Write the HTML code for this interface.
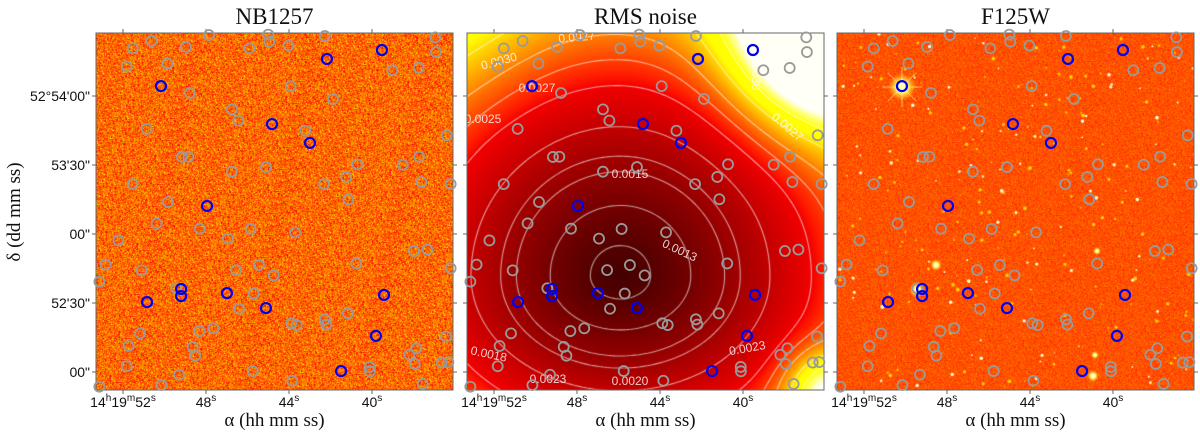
<!DOCTYPE html>
<html><head><meta charset="utf-8">
<style>
body{margin:0;background:#fff;width:1200px;height:435px;overflow:hidden;position:relative;font-family:"Liberation Sans",sans-serif}
canvas{position:absolute;top:33px}
svg{position:absolute;left:0;top:0}
</style></head>
<body>
<canvas id="c1" width="357" height="357" style="left:96px"></canvas>
<canvas id="c2" width="357" height="357" style="left:467px"></canvas>
<canvas id="c3" width="357" height="357" style="left:837px"></canvas>
<svg id="s" width="1200" height="435"></svg>
<script>
// Source positions: RA seconds (14h19m..s) and Dec arcsec above 52°52'00"
const blueRA=[50.17,44.82,42.99,42.17,39.52,47.95,49.20,49.20,46.99,50.84,45.11,39.42,39.81,41.49];
const blueDec=[124.3,107.8,99.6,136.1,140,72.2,36.1,33.0,34.3,30.4,27.8,33.5,15.7,0.4];
const grayRA=[51.53,50.62,48.96,47.86,45.91,45.0,44.95,44.03,42.27,36.95,36.92,51.82,49.86,48.77,43.92,41.88,39.02,37.75,46.75,46.44,50.86,43.21,36.4,49.16,48.85,45.11,46.75,40.72,38.52,37.73,41.24,42.31,37.62,51.53,41.14,36.21,49.83,50.38,48.29,45.85,43.71,46.94,52.22,37.98,37.33,52.84,51.1,46.55,45.45,44.74,40.76,36.21,53.14,49.43,45.7,46.41,41.17,51.18,48.32,47.65,43.89,43.63,42.27,42.2,51.73,48.64,48.51,36.43,37.86,38.2,37.94,36.64,36.32,51.82,49.3,45.75,43.84,40.11,40.1,50.15,53.14,37.56];
const grayDec=[140.7,143.9,141.3,146.5,140.7,146.7,143.6,141.9,146.1,145.5,139.1,132.8,134.1,121.3,124.3,118.7,131.2,132.2,114.2,109.3,105.7,104.9,102.9,93.5,93.6,89.1,87.1,90.3,90.1,93.6,84.8,81.7,82.6,81.7,75.1,81.7,73.9,64.6,62.3,62.2,60.7,58.0,57.2,52.6,53.2,46.7,44.2,44.3,46.5,42.0,47.2,45.1,39.3,36.4,34.1,27.5,25.5,16.8,17.8,19.0,21.2,20.4,22.9,20.6,11.3,10.9,7.1,15.4,10.3,7.5,3.5,4.1,4.3,2.5,-1.2,0.4,-3.8,2.2,0.3,-5.7,-6.4,-5.2];
const raTicks=[52,48,44,40];
const raLabels=[["14","19","52"],["","","48"],["","","44"],["","","40"]];
const decTicks=[120,90,60,30,0];
const decLabels=["52°54'00\"","53'30\"","00\"","52'30\"","00\""];
const titles=["NB1257","RMS noise","F125W"];
const contourLevels=[0.0013,0.0015,0.0017,0.0018,0.0020,0.0023,0.0025,0.0027,0.0030,0.0033];
const contourLabelText=["0.0030","0.0027","0.0025","0.0027","0.0015","0.0013","0.0018","0.0023","0.0020","0.0023","0.0027","0.0033","0.0030"];

const lefts=[96,467,837], TOP=33, W=357, H=357;
const xpx=(p,ra)=>lefts[p]+27+(52-ra)*20.75;
const ypx=dec=>372-dec*2.3;

let seed=12345;
function rnd(){seed=(seed*1103515245+12345)%2147483648;return seed/2147483648;}
function gauss(){return (rnd()+rnd()+rnd()+rnd()-2)*0.87;}
function hot(t){t=Math.max(0,Math.min(1,t));return [Math.min(1,0.15+t*1.6)*255,Math.max(0,Math.min(1,(t-0.5)*3.2))*255,Math.max(0,Math.min(1,(t-0.88)*8))*255];}

// Panel 1 noise
(function(){const c=document.getElementById('c1').getContext('2d');const im=c.createImageData(W,H);
for(let y=0;y<H;y++)for(let x=0;x<W;x++){const t=0.63+gauss()*0.13;const k=hot(t);const i=(y*W+x)*4;im.data[i]=k[0];im.data[i+1]=k[1];im.data[i+2]=k[2];im.data[i+3]=255;}
c.putImageData(im,0,0);})();
// Panel 3 noise + sources
(function(){const c=document.getElementById('c3').getContext('2d');const im=c.createImageData(W,H);
for(let y=0;y<H;y++)for(let x=0;x<W;x++){const t=0.6+gauss()*0.05;const k=hot(t);const i=(y*W+x)*4;im.data[i]=k[0];im.data[i+1]=k[1];im.data[i+2]=k[2];im.data[i+3]=255;}
c.putImageData(im,0,0);
for(let n=0;n<260;n++){const x=rnd()*W,y=rnd()*H,r=0.6+rnd()*1.3;c.fillStyle=rnd()<0.4?'#ffffd0':'#ffd000';c.beginPath();c.arc(x,y,r,0,7);c.fill();}
function star(x,y,r){const g=c.createRadialGradient(x,y,0,x,y,r);g.addColorStop(0,'#fff');g.addColorStop(0.4,'#ffff80');g.addColorStop(1,'rgba(255,200,0,0)');c.fillStyle=g;c.beginPath();c.arc(x,y,r,0,7);c.fill();}
star(65,54,14);c.strokeStyle='rgba(255,255,150,0.7)';c.lineWidth=1;for(let a=0;a<8;a++){c.beginPath();c.moveTo(65,54);c.lineTo(65+20*Math.cos(a*0.785),54+20*Math.sin(a*0.785));c.stroke();}
star(80,257,8);star(99,232,6);star(260,218,4);star(256,343,6);star(258,322,4);})();
// Panel 2 RMS map
const field=(u,v)=>{const dy=(v-0.68)/(v<0.68?1.0:0.77);const r=Math.sqrt((u-0.43)**2+dy*dy);return 0.0012+0.00248*Math.pow(r,1.3)+0.0018*Math.exp(-((1-u)**2+v*v)/0.06)+0.0009*Math.exp(-((1-u)**2+(1-v)**2)/0.012)+0.0001*Math.exp(-(u*u+v*v)/0.05);};
(function(){const c=document.getElementById('c2').getContext('2d');const im=c.createImageData(W,H);
for(let y=0;y<H;y++)for(let x=0;x<W;x++){const f=field(x/W,y/H);const k=hot((f-0.001)/0.0026);const i=(y*W+x)*4;im.data[i]=k[0];im.data[i+1]=k[1];im.data[i+2]=k[2];im.data[i+3]=255;}
c.putImageData(im,0,0);
c.strokeStyle='rgba(255,255,255,0.6)';c.lineWidth=1.1;const s=4;
contourLevels.forEach(L=>{c.beginPath();
for(let y=0;y<H;y+=s)for(let x=0;x<W;x+=s){const a=field(x/W,y/H),b=field((x+s)/W,y/H),d=field((x+s)/W,(y+s)/H),e=field(x/W,(y+s)/H);const pts=[];
const ed=(p1,p2,v1,v2)=>{if((v1-L)*(v2-L)<0){const t=(L-v1)/(v2-v1);pts.push([p1[0]+(p2[0]-p1[0])*t,p1[1]+(p2[1]-p1[1])*t]);}};
ed([x,y],[x+s,y],a,b);ed([x+s,y],[x+s,y+s],b,d);ed([x+s,y+s],[x,y+s],d,e);ed([x,y+s],[x,y],e,a);
for(let k=0;k+1<pts.length;k+=2){c.moveTo(pts[k][0],pts[k][1]);c.lineTo(pts[k+1][0],pts[k+1][1]);}}
c.stroke();});})();

const S=document.getElementById('s');const NS='http://www.w3.org/2000/svg';
function mk(tag,at,txt){const e=document.createElementNS(NS,tag);for(const k in at)e.setAttribute(k,at[k]);if(txt!==undefined)e.textContent=txt;S.appendChild(e);return e;}
const clPos=[[500,65,-15],[537,92,0],[483,123,0],[577,41,-5],[630,178,0],[678,254,25],[488,358,12],[548,383,0],[630,385,0],[748,352,-10],[785,130,40],[792,100,40],[752,72,90]];
contourLabelText.forEach((t,i)=>{const p=clPos[i];const e=mk('text',{x:p[0],y:p[1],'font-size':12,fill:'rgba(255,255,255,0.8)','text-anchor':'middle',transform:`rotate(${p[2]} ${p[0]} ${p[1]})`},t);

});
for(let p=0;p<3;p++){
  const L=lefts[p];
  const fr=mk('rect',{x:L,y:TOP,width:W,height:H,fill:'none',stroke:'#666','stroke-width':1});
  
  
  const tt=mk('text',{x:L+W/2,y:24,'font-size':23,'font-family':'"Liberation Serif",serif','text-anchor':'middle',fill:'#111'},titles[p]);
  
  
  const xl=mk('text',{x:L+W/2,y:426,'font-size':19,'font-family':'"Liberation Serif",serif','text-anchor':'middle',fill:'#111'},'α (hh mm ss)');
  
  
  raTicks.forEach((r,i)=>{const x=xpx(p,r);
    mk('line',{x1:x,y1:TOP,x2:x,y2:TOP-4,stroke:'#666'});mk('line',{x1:x,y1:TOP+H,x2:x,y2:TOP+H+4,stroke:'#666'});
    const lb=raLabels[i];const t=mk('text',{x:x,y:407,'font-size':14,'text-anchor':'middle',fill:'#111'});
    
    
    if(lb[0]){t.innerHTML=`${lb[0]}<tspan dy="-6" font-size="10">h</tspan><tspan dy="6">${lb[1]}</tspan><tspan dy="-6" font-size="10">m</tspan><tspan dy="6">${lb[2]}</tspan><tspan dy="-6" font-size="10">s</tspan>`;}
    else{t.innerHTML=`${lb[2]}<tspan dy="-6" font-size="10">s</tspan>`;}
  });
  decTicks.forEach((d,i)=>{const y=ypx(d);
    mk('line',{x1:L,y1:y,x2:L-4,y2:y,stroke:'#666'});mk('line',{x1:L+W,y1:y,x2:L+W+4,y2:y,stroke:'#666'});
    if(p===0){const t=mk('text',{x:90,y:y+5,'font-size':14,'text-anchor':'end',fill:'#111'},decLabels[i]);
      
      }
  });
  grayRA.forEach((r,i)=>{const c=mk('circle',{cx:xpx(p,r),cy:ypx(grayDec[i]),r:5,fill:'none',stroke:'#9a9a9a','stroke-width':1.8});
    
    });
  blueRA.forEach((r,i)=>{const c=mk('circle',{cx:xpx(p,r),cy:ypx(blueDec[i]),r:5,fill:'none',stroke:'#0000ee','stroke-width':2.2});
    
    });
}
const yl=mk('text',{x:20,y:212,'font-size':19,'font-family':'"Liberation Serif",serif','text-anchor':'middle',fill:'#111',transform:'rotate(-90 20 212)'},'δ (dd mm ss)');


</script>
</body></html>
